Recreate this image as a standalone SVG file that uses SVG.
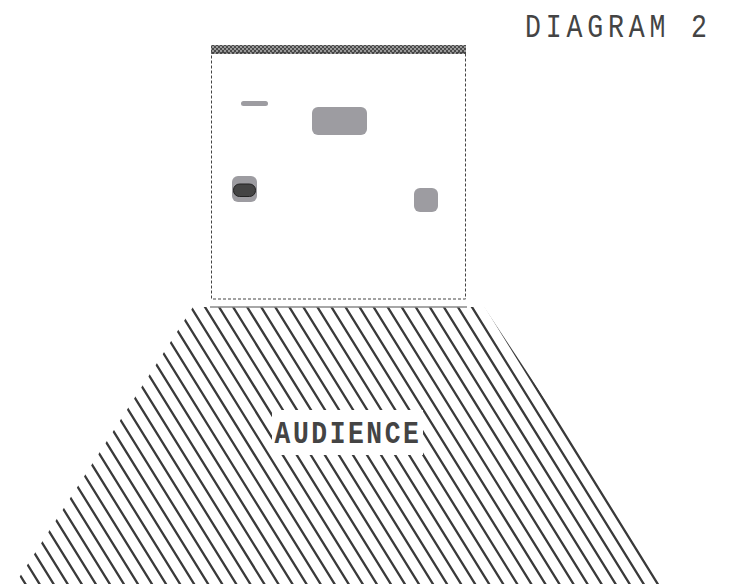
<svg xmlns="http://www.w3.org/2000/svg" width="733" height="584" viewBox="0 0 733 584">
  <style>
    .dash { fill: none; stroke: #444; stroke-width: 1; stroke-dasharray: 3 2; }
    .prop { fill: #9d9ca1; }
    .title { font-family: "Liberation Mono", "DejaVu Sans Mono", monospace; fill: #444; }
    .hl { stroke: #3a3a3a; stroke-width: 2.3; fill: none; }
  </style>
  <defs>
    <clipPath id="audClip">
      <polygon points="193,307 484,307 667,584 15,584"/>
    </clipPath>
    <pattern id="checker" patternUnits="userSpaceOnUse" width="4" height="4">
      <rect width="4" height="4" fill="#9a9a9a"/>
      <rect width="2" height="2" fill="#4a4a4a"/>
      <rect x="2" y="2" width="2" height="2" fill="#4a4a4a"/>
    </pattern>
  </defs>

  <text class="title" transform="translate(525,37) scale(0.78,1)" x="0" y="0" font-size="34" letter-spacing="6.2">DIAGRAM 2</text>

  <g id="audience">
    <g clip-path="url(#audClip)">
      <path class="hl" d="M-164.64,300l179.8,290M-150.59,300l179.8,290M-136.54,300l179.8,290M-122.49,300l179.8,290M-108.44,300l179.8,290M-94.39,300l179.8,290M-80.34,300l179.8,290M-66.29,300l179.8,290M-52.24,300l179.8,290M-38.19,300l179.8,290M-24.14,300l179.8,290M-10.09,300l179.8,290M3.96,300l179.8,290M18.01,300l179.8,290M32.06,300l179.8,290M46.11,300l179.8,290M60.16,300l179.8,290M74.21,300l179.8,290M88.26,300l179.8,290M102.31,300l179.8,290M116.36,300l179.8,290M130.41,300l179.8,290M144.46,300l179.8,290M158.51,300l179.8,290M172.56,300l179.8,290M186.61,300l179.8,290M200.66,300l179.8,290M214.71,300l179.8,290M228.76,300l179.8,290M242.81,300l179.8,290M256.86,300l179.8,290M270.91,300l179.8,290M284.96,300l179.8,290M299.01,300l179.8,290M313.06,300l179.8,290M327.11,300l179.8,290M341.16,300l179.8,290M355.21,300l179.8,290M369.26,300l179.8,290M383.31,300l179.8,290M397.36,300l179.8,290M411.41,300l179.8,290M425.46,300l179.8,290M439.51,300l179.8,290M453.56,300l179.8,290M467.61,300l179.8,290M481.66,300l179.8,290"/>
    </g>
    <line x1="210" y1="307" x2="467" y2="307" stroke="#8a8a8a" stroke-width="1.5"/>
    <rect x="272" y="410" width="151" height="45" fill="#fff"/>
    <text class="title" transform="translate(348,443) scale(0.85,1)" x="0" y="0" font-size="31" font-weight="bold" text-anchor="middle" letter-spacing="3">AUDIENCE</text>
  </g>

  <g id="stage">
    <rect x="211" y="45" width="255" height="9" fill="url(#checker)"/>
    <rect class="dash" x="211.5" y="52.5" width="254" height="246.5"/>
  </g>

  <g id="prop-bar">
    <rect class="prop" x="241" y="101" width="27" height="5" rx="2.5"/>
  </g>
  <g id="prop-table">
    <rect class="prop" x="312" y="107" width="55" height="28" rx="6"/>
  </g>
  <g id="prop-chair">
    <rect class="prop" x="232" y="176" width="25" height="26" rx="6"/>
    <rect x="233.5" y="184" width="22" height="12.5" rx="6" fill="#444" stroke="#222" stroke-width="1"/>
  </g>
  <g id="prop-box">
    <rect class="prop" x="414" y="188" width="24" height="24" rx="6"/>
  </g>
</svg>
